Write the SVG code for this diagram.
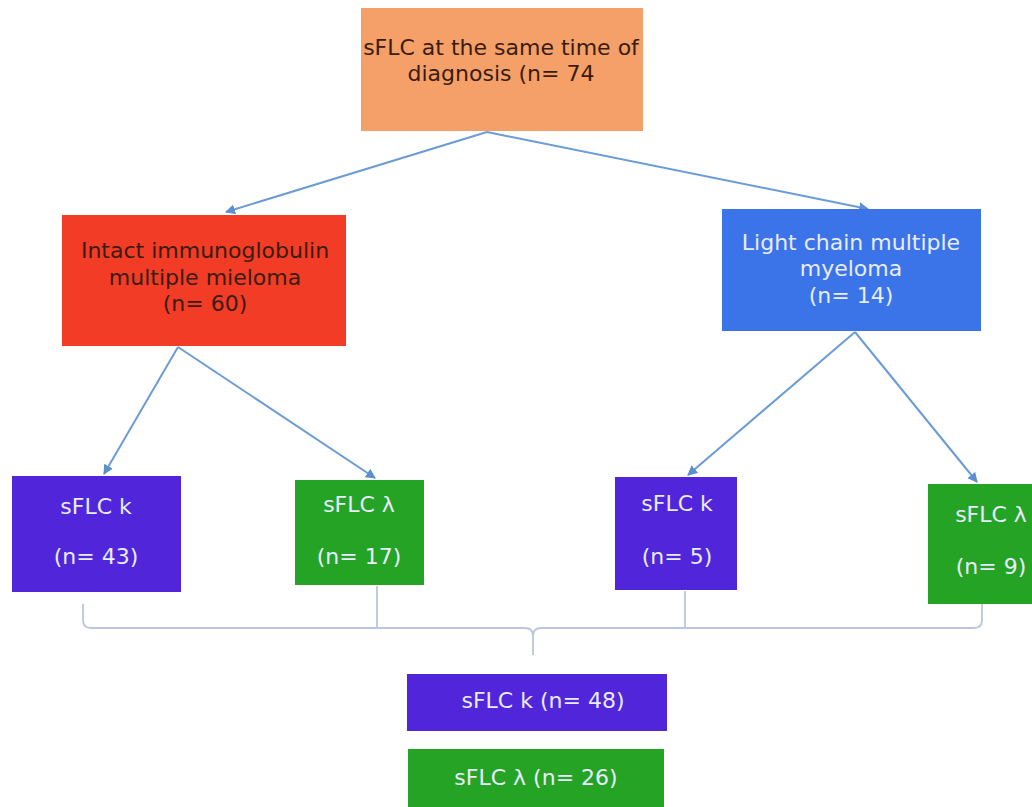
<svg xmlns="http://www.w3.org/2000/svg" width="1032" height="807" viewBox="0 0 1032 807">
<defs>
<style>
.t{font-family:"DejaVu Sans","Liberation Sans",sans-serif;font-size:22px;text-anchor:middle}
.dk{fill:#3a1c12}
.lt{fill:#e8ecff}
.arr{stroke:#6a9cd6;stroke-width:2;fill:none;marker-end:url(#ah)}
.br{stroke:#b9c7dd;stroke-width:1.8;fill:none}
.pu{fill:#5125d9}
.gr{fill:#25a325}
</style>
<marker id="ah" viewBox="0 0 10 10" refX="9" refY="5" markerWidth="5" markerHeight="5" orient="auto">
<path d="M0,0 L10,5 L0,10 z" fill="#5b8fd0"/>
</marker>
</defs>
<rect width="1032" height="807" fill="#ffffff"/>
<g id="connectors">
<line class="arr" x1="487" y1="132" x2="226" y2="212"/>
<line class="arr" x1="487" y1="132" x2="868" y2="209"/>
<line class="arr" x1="178" y1="347" x2="104" y2="474"/>
<line class="arr" x1="178" y1="347" x2="375" y2="478"/>
<line class="arr" x1="855" y1="332" x2="688" y2="475"/>
<line class="arr" x1="855" y1="332" x2="977" y2="482"/>
<path class="br" d="M83,604 V620 Q83,628 91,628 H525 Q533,628 533,636 V655 M533,636 Q533,628 541,628 H974 Q982,628 982,620 V604"/>
<line class="br" x1="377" y1="586" x2="377" y2="628"/>
<line class="br" x1="685" y1="591" x2="685" y2="628"/>
</g>
<g id="top">
<rect x="361" y="8" width="282" height="123" fill="#f4a068"/>
<text class="t dk" x="501" y="55">sFLC at the same time of</text>
<text class="t dk" x="501" y="81">diagnosis (n= 74</text>
</g>
<g id="intact">
<rect x="62" y="215" width="284" height="131" fill="#f23c26"/>
<text class="t dk" x="205" y="258" font-size="21.5">Intact immunoglobulin</text>
<text class="t dk" x="205" y="285" font-size="21.5">multiple mieloma</text>
<text class="t dk" x="205" y="311" font-size="21.5">(n= 60)</text>
</g>
<g id="light">
<rect x="722" y="209" width="259" height="122" fill="#3b74e9"/>
<text class="t lt" x="851" y="250">Light chain multiple</text>
<text class="t lt" x="851" y="276">myeloma</text>
<text class="t lt" x="851" y="303">(n= 14)</text>
</g>
<g id="k43">
<rect class="pu" x="12" y="476" width="169" height="116"/>
<text class="t lt" x="96" y="514">sFLC k</text>
<text class="t lt" x="96" y="564">(n= 43)</text>
</g>
<g id="l17">
<rect class="gr" x="295" y="480" width="129" height="105"/>
<text class="t lt" x="359" y="512">sFLC λ</text>
<text class="t lt" x="359" y="564">(n= 17)</text>
</g>
<g id="k5">
<rect class="pu" x="615" y="477" width="122" height="113"/>
<text class="t lt" x="677" y="511">sFLC k</text>
<text class="t lt" x="677" y="564">(n= 5)</text>
</g>
<g id="l9">
<rect class="gr" x="928" y="484" width="110" height="120"/>
<text class="t lt" x="991" y="522">sFLC λ</text>
<text class="t lt" x="991" y="574">(n= 9)</text>
</g>
<g id="k48">
<rect class="pu" x="407" y="674" width="260" height="57"/>
<text class="t lt" x="543" y="708">sFLC k (n= 48)</text>
</g>
<g id="l26">
<rect class="gr" x="408" y="749" width="256" height="62"/>
<text class="t lt" x="536" y="785">sFLC λ (n= 26)</text>
</g>
</svg>
